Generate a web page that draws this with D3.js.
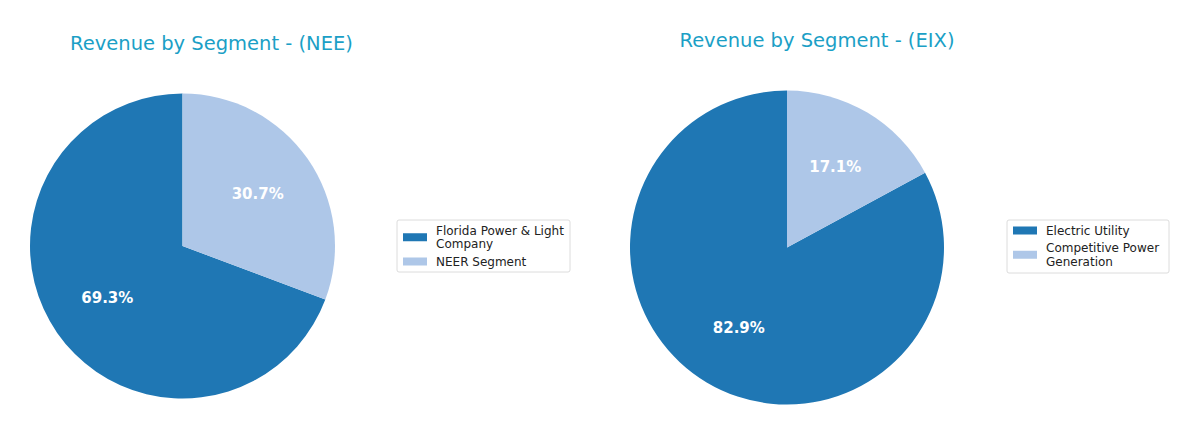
<!DOCTYPE html>
<html lang="en">
  <head>
    <meta charset="UTF-8" />
    <title>Revenue by Segment</title>
    <script src="https://d3js.org/d3.v7.min.js"></script>
    <style>
      body { margin: 0; background: #fff; }
      text { font-family: "DejaVu Sans", sans-serif; }
      .chart-title { font-size: 19.5px; fill: #1b9fc6; text-anchor: middle; }
      .pct { font-size: 15px; font-weight: bold; fill: #fff; text-anchor: middle; dominant-baseline: central; }
      .legend-text { font-size: 12px; fill: #222; }
    </style>
  </head>
  <body>
    <svg id="visualization" width="1200" height="435"></svg>

    <script>
      // Data
      const neeLabels = ["Florida Power & Light Company", "NEER Segment"];
      const neeValues = [69.3, 30.7];
      const eixLabels = ["Electric Utility", "Competitive Power Generation"];
      const eixValues = [82.9, 17.1];
      const colors = ["#1f77b4", "#aec7e8"];

      const svg = d3.select("#visualization");

      // legend text is wrapped like the reference
      const neeLegendLines = [["Florida Power & Light", "Company"], ["NEER Segment"]];
      const eixLegendLines = [["Electric Utility"], ["Competitive Power", "Generation"]];

      function drawPie(opts) {
        const { cx, cy, r, title, titleX, titleY, values, legendLines, legend } = opts;

        svg.append("text")
          .attr("class", "chart-title")
          .attr("x", titleX)
          .attr("y", titleY)
          .text(title);

        const g = svg.append("g").attr("transform", `translate(${cx},${cy})`);

        // matplotlib style: start at top, counter-clockwise
        const pie = d3.pie().sort(null).startAngle(0).endAngle(-2 * Math.PI);
        const arcs = pie(values);
        const arc = d3.arc().innerRadius(0).outerRadius(r);
        const labelArc = d3.arc().innerRadius(r * 0.6).outerRadius(r * 0.6);

        g.selectAll("path")
          .data(arcs)
          .enter()
          .append("path")
          .attr("d", arc)
          .attr("fill", (d, i) => colors[i]);

        const total = d3.sum(values);
        g.selectAll(".pct")
          .data(arcs)
          .enter()
          .append("text")
          .attr("class", "pct")
          .attr("transform", (d) => `translate(${labelArc.centroid(d)})`)
          .text((d) => (d.value / total * 100).toFixed(1) + "%");

        // Legend
        const lg = svg.append("g").attr("transform", `translate(${legend.x},${legend.y})`);
        lg.append("rect")
          .attr("width", legend.w)
          .attr("height", legend.h)
          .attr("rx", 2)
          .attr("fill", "#fff")
          .attr("stroke", "#dcdcdc");

        let y = 10.5;
        const lineH = 13.5;
        legendLines.forEach((lines, i) => {
          const mid = y + (lines.length - 1) * lineH / 2;
          lg.append("rect")
            .attr("x", 6)
            .attr("y", mid - 4)
            .attr("width", 24)
            .attr("height", 8)
            .attr("fill", colors[i]);
          lines.forEach((t, k) => {
            lg.append("text")
              .attr("class", "legend-text")
              .attr("x", 39)
              .attr("y", y + k * lineH + 4.3)
              .text(t);
          });
          y += lines.length * lineH + 4;
        });
      }

      drawPie({
        cx: 182.5, cy: 246, r: 152.5,
        title: "Revenue by Segment - (NEE)", titleX: 211.5, titleY: 50,
        values: neeValues, legendLines: neeLegendLines,
        legend: { x: 397, y: 220, w: 173, h: 52 }
      });

      drawPie({
        cx: 787, cy: 247.5, r: 157,
        title: "Revenue by Segment - (EIX)", titleX: 817, titleY: 47,
        values: eixValues, legendLines: eixLegendLines,
        legend: { x: 1007, y: 220, w: 162, h: 53 }
      });
    </script>
  </body>
</html>
